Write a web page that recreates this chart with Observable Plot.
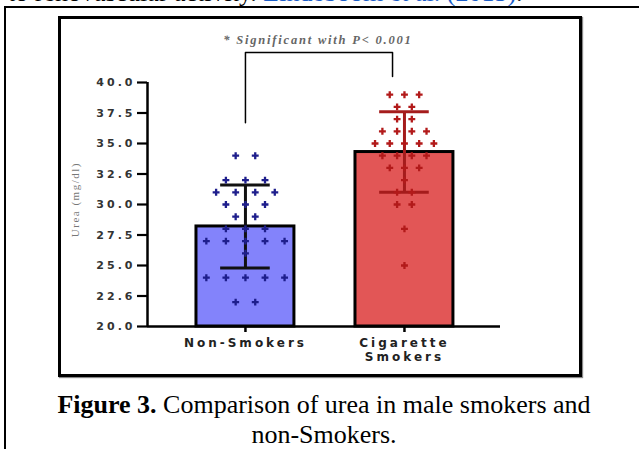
<!DOCTYPE html>
<html><head><meta charset="utf-8">
<script src="https://cdn.jsdelivr.net/npm/d3@7"></script>
<script src="https://cdn.jsdelivr.net/npm/@observablehq/plot@0.6"></script>
<style>
html,body{margin:0;padding:0;background:#fff;}
#page{position:relative;width:639px;height:449px;overflow:hidden;background:#fff;}
#topline{position:absolute;left:8px;top:-22px;font:26px/30px "Liberation Serif","Times New Roman",serif;white-space:nowrap;color:#000;}
#topline .ref{color:#1a5dc8;}
#outerTop{position:absolute;left:4px;top:6px;width:640px;height:0;border-top:2px solid #000;}
#outerLeft{position:absolute;left:4px;top:6px;width:0;height:450px;border-left:2px solid #000;}
#box{position:absolute;left:58px;top:16px;width:518px;height:355px;border:3px solid #000;box-shadow:1px 1px 1px #888;}
#chart{position:absolute;left:59px;top:17px;width:523px;height:360px;}
#caption{position:absolute;left:24px;width:600px;top:390px;text-align:center;font:26px/30px "Liberation Serif","Times New Roman",serif;color:#000;}
</style>
</head><body>
<div id="page">
  <div id="topline">to renovascular activity. <span class="ref">Lindeboom et al.</span> <span class="ref">(2015)</span>.</div>
  <div id="outerTop"></div>
  <div id="outerLeft"></div>
  <div id="box"></div>
  <div id="chart"></div>
  <div id="caption"><b>Figure 3.</b> Comparison of urea in male smokers and<br>non-Smokers.</div>
</div>
<script>
// ---- data ----
const groups = ["Non-Smokers", "Cigarette\nSmokers"];
const means = [28.2, 34.3];
const sds = [3.4, 3.3];
const nonSmokers = [34,34,32,32,32,31,31,31,31,30,30,30,29,29,28,28,28,27,27,27,27,27,26,24,24,24,24,24,22,22];
const smokers = [39,39,39,38,38,37,37,36,36,36,36,35,35,35,35,35,34,34,34,34,33,33,33,32,31,31,30,30,28,25];
const yTicks = [20, 22.5, 25, 27.5, 30, 32.5, 35, 37.5, 40];
const yTickLabels = ["20.0","22.6","25.0","27.5","30.0","32.6","35.0","37.5","40.0"];
const yLabel = "Urea (mg/dl)";
const sigLabel = "* Significant with P< 0.001";
const bracket = [{x:0,y:36.7},{x:0,y:42.45},{x:0.925,y:42.45},{x:0.925,y:40.5}];

// ---- styling / layout constants ----
const barFill = ["#8383fb", "#e25656"];
const dotFill = ["#1e1e8c", "#b21a1a"];
const errStroke = ["#111111", "#a51c1c"];
const spread = [0.123, 0.0925];
const barHalf = 0.308, capHalf = 0.156;
const xDomain = [-0.616, 1.604];
const yDomain = [20, 40];

const barData = groups.map((g, i) => ({i, g, mean: means[i], sd: sds[i]}));
function swarm(vals, gi) {
  const out = [];
  for (const [v, arr] of d3.group(vals, v => v)) {
    arr.forEach((_, k) => out.push({g: gi, x: gi + (k - (arr.length - 1) / 2) * spread[gi], y: v}));
  }
  return out;
}
const dots = [...swarm(nonSmokers, 0), ...swarm(smokers, 1)];
const caps = barData.flatMap(d => [{i: d.i, y: d.mean + d.sd}, {i: d.i, y: d.mean - d.sd}]);

const plot = Plot.plot({
  width: 523, height: 360,
  marginTop: 65, marginBottom: 51, marginLeft: 88, marginRight: 82,
  style: {background: "transparent", fontFamily: "'DejaVu Sans', sans-serif", overflow: "visible"},
  x: {domain: xDomain, axis: null},
  y: {domain: yDomain, axis: null},
  marks: [
    Plot.rectY(barData, {x1: d => d.i - barHalf, x2: d => d.i + barHalf, y1: yDomain[0], y2: "mean",
      fill: d => barFill[d.i], stroke: "#000", strokeWidth: 3}),
    Plot.ruleX(barData, {x: "i", y1: d => d.mean - d.sd, y2: d => d.mean + d.sd,
      stroke: d => errStroke[d.i], strokeWidth: 3}),
    Plot.ruleY(caps, {y: "y", x1: d => d.i - capHalf, x2: d => d.i + capHalf,
      stroke: d => errStroke[d.i], strokeWidth: 3}),
    Plot.dot(dots, {x: "x", y: "y", symbol: "cross", r: 2.9, fill: d => dotFill[d.g], stroke: null}),
    Plot.ruleX([xDomain[0]], {y1: yDomain[0], y2: yDomain[1], stroke: "#000", strokeWidth: 2.5}),
    Plot.ruleY([yDomain[0]], {stroke: "#000", strokeWidth: 2.5}),
    Plot.axisY({ticks: yTicks, tickFormat: d => yTickLabels[yTicks.indexOf(d)], tickSize: 10, tickPadding: 2,
      fontSize: 11, fontWeight: "bold", fill: "#333", stroke: "#000", strokeWidth: 2.2, label: null}),
    Plot.axisX({ticks: [0, 1], tickFormat: i => groups[i], tickSize: 6, tickPadding: 5,
      fontSize: 12, fontWeight: "bold", lineHeight: 1.15, fill: "#222", stroke: "#000", strokeWidth: 2.5, label: null}),
    Plot.text([yLabel], {x: xDomain[0], y: 30.4, dx: -72, rotate: -90, fontSize: 11,
      fontFamily: "'Liberation Serif', serif", fill: "#777"}),
    Plot.line(bracket, {x: "x", y: "y", stroke: "#000", strokeWidth: 1.5}),
    Plot.text([sigLabel], {x: 0.456, y: 43.45, fontSize: 12.5, fontStyle: "italic", fontWeight: "bold",
      fontFamily: "'Liberation Serif', serif", fill: "#666"})
  ]
});
document.getElementById("chart").appendChild(plot);
const svg = d3.select(plot);
svg.selectAll("g[aria-label='y-axis tick label'] text").attr("letter-spacing", 3);
svg.selectAll("g[aria-label='x-axis tick label'] text").attr("letter-spacing", 3);
svg.selectAll("g[aria-label='text'] text").each(function() {
  const t = d3.select(this);
  if (t.text() === yLabel) t.attr("letter-spacing", 1.5);
  if (t.text() === sigLabel) t.attr("letter-spacing", 1.8);
});
</script>
</body></html>
